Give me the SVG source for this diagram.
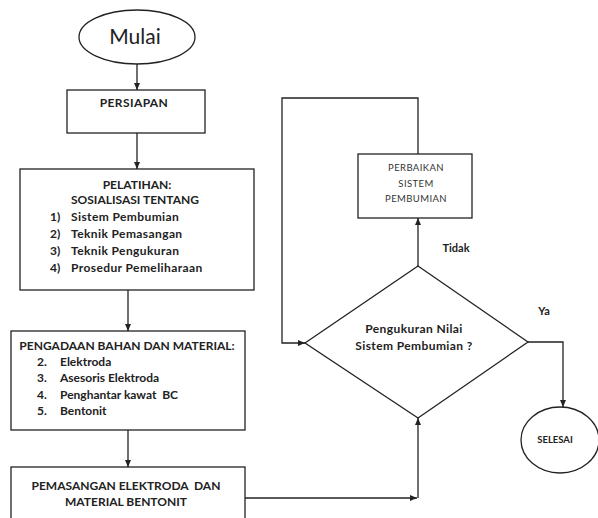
<svg xmlns="http://www.w3.org/2000/svg" width="598" height="518" viewBox="0 0 598 518">
<defs>
<style>
.s{fill:#fff;stroke:#222;stroke-width:1.3}
.l{fill:none;stroke:#222;stroke-width:1.3}
.t{font-family:Lato,"Liberation Sans",sans-serif;fill:#222;font-weight:bold;font-size:12px;white-space:pre}
.w{letter-spacing:0.4px}
.lb{font-family:Lato,"Liberation Sans",sans-serif;fill:#222;font-weight:bold;font-size:11px}
.se{font-family:Lato,"Liberation Sans",sans-serif;fill:#222;font-weight:bold;font-size:9.5px}
.n{font-family:Lato,"Liberation Sans",sans-serif;fill:#333;font-size:9.5px;letter-spacing:0.4px}
.m{font-family:Lato,"Liberation Sans",sans-serif;fill:#222;font-size:21px}
</style>
<marker id="a" markerWidth="8" markerHeight="8" refX="7" refY="4" orient="auto" markerUnits="userSpaceOnUse">
<path d="M0,1 L7,4 L0,7 z" fill="#222"/>
</marker>
</defs>
<rect width="598" height="518" fill="#fff"/>
<g id="connectors">
<line class="l" x1="137" y1="63" x2="137" y2="90" marker-end="url(#a)"/>
<line class="l" x1="137" y1="133" x2="137" y2="169" marker-end="url(#a)"/>
<line class="l" x1="128" y1="290" x2="128" y2="331" marker-end="url(#a)"/>
<line class="l" x1="128" y1="430" x2="128" y2="467" marker-end="url(#a)"/>
<polyline class="l" points="245,498 417,498" marker-end="url(#a)"/>
<polyline class="l" points="418,498 418,418" marker-end="url(#a)"/>
<line class="l" x1="418" y1="266" x2="418" y2="218" marker-end="url(#a)"/>
<polyline class="l" points="418,154 418,98 282,98 282,343 305,343" marker-end="url(#a)"/>
<polyline class="l" points="528,342 563,342 563,407" marker-end="url(#a)"/>
<text class="lb" x="456" y="252" text-anchor="middle">Tidak</text>
<text class="lb" x="544" y="315" text-anchor="middle">Ya</text>
</g>
<g id="mulai">
<ellipse class="s" cx="137" cy="37" rx="58" ry="27"/>
<text class="m" x="135" y="44" text-anchor="middle">Mulai</text>
</g>
<g id="persiapan">
<rect class="s" x="67" y="90" width="138" height="43"/>
<text class="t w" x="134" y="107" text-anchor="middle">PERSIAPAN</text>
</g>
<g id="pelatihan">
<rect class="s" x="20" y="169" width="234" height="121"/>
<text class="t" x="137" y="189" text-anchor="middle">PELATIHAN:</text>
<text class="t" x="135" y="204" text-anchor="middle">SOSIALISASI TENTANG</text>
<text class="t" x="50" y="221">1)</text><text class="t w" x="71" y="221">Sistem Pembumian</text>
<text class="t" x="50" y="238">2)</text><text class="t w" x="71" y="238">Teknik Pemasangan</text>
<text class="t" x="50" y="255">3)</text><text class="t w" x="71" y="255">Teknik Pengukuran</text>
<text class="t" x="50" y="272">4)</text><text class="t w" x="71" y="272">Prosedur Pemeliharaan</text>
</g>
<g id="pengadaan">
<rect class="s" x="11" y="331" width="234" height="99"/>
<text class="t" x="127" y="350" text-anchor="middle">PENGADAAN BAHAN DAN MATERIAL:</text>
<text class="t" x="37" y="366">2.</text><text class="t" x="60" y="366">Elektroda</text>
<text class="t" x="37" y="382">3.</text><text class="t" x="60" y="382">Asesoris Elektroda</text>
<text class="t" x="37" y="399">4.</text><text class="t" x="60" y="399" xml:space="preserve">Penghantar kawat  BC</text>
<text class="t" x="37" y="415">5.</text><text class="t" x="60" y="415">Bentonit</text>
</g>
<g id="pemasangan">
<rect class="s" x="11" y="467" width="234" height="60"/>
<text class="t" x="126" y="490" text-anchor="middle" xml:space="preserve">PEMASANGAN ELEKTRODA  DAN</text>
<text class="t" x="126" y="506" text-anchor="middle">MATERIAL BENTONIT</text>
</g>
<g id="perbaikan">
<rect class="s" x="358" y="154" width="114" height="64"/>
<text class="n" x="416" y="171" text-anchor="middle">PERBAIKAN</text>
<text class="n" x="416" y="187" text-anchor="middle">SISTEM</text>
<text class="n" x="416" y="202" text-anchor="middle">PEMBUMIAN</text>
</g>
<g id="pengukuran">
<polygon class="s" points="305,343 418,266 528,342 418,418"/>
<text class="t w" x="414" y="333" text-anchor="middle">Pengukuran Nilai</text>
<text class="t w" x="414" y="350" text-anchor="middle">Sistem Pembumian ?</text>
</g>
<g id="selesai">
<ellipse class="s" cx="560" cy="440" rx="39" ry="33"/>
<text class="se" x="555" y="443" text-anchor="middle">SELESAI</text>
</g>
</svg>
